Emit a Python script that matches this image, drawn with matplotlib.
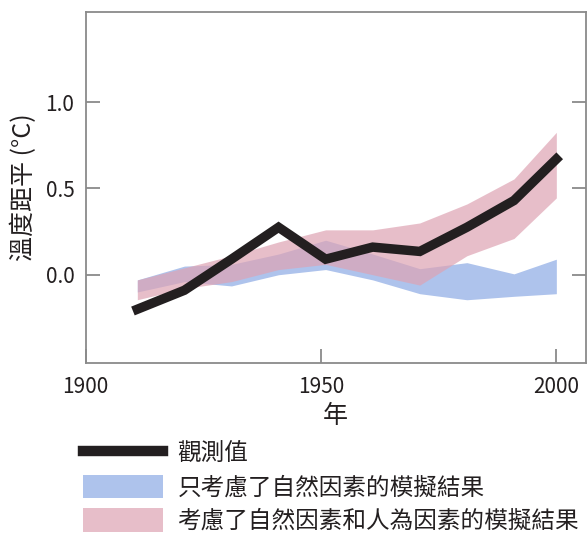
import matplotlib
matplotlib.use('Agg')
import matplotlib.pyplot as plt
from matplotlib.lines import Line2D
from matplotlib.patches import Patch

plt.rcParams['font.family'] = ['Noto Sans CJK TC', 'DejaVu Sans']

years = [1911, 1921, 1931, 1941, 1951, 1961, 1971, 1981, 1991, 2000]
observed = [-0.20, -0.09, 0.09, 0.275, 0.09, 0.16, 0.135, 0.275, 0.43, 0.67]
natural_low = [-0.10, -0.04, -0.065, 0.0, 0.03, -0.03, -0.11, -0.145, -0.125, -0.11]
natural_high = [-0.03, 0.05, 0.06, 0.12, 0.20, 0.12, 0.035, 0.07, 0.005, 0.09]
both_low = [-0.145, -0.08, -0.04, 0.03, 0.06, 0.0, -0.06, 0.11, 0.21, 0.445]
both_high = [-0.03, 0.04, 0.11, 0.19, 0.26, 0.26, 0.30, 0.41, 0.555, 0.825]

labels = ['觀測值', '只考慮了自然因素的模擬結果', '考慮了自然因素和人為因素的模擬結果']

blue = '#aec3ec'
pink = '#dea3b3'
black = '#231f20'
gray = '#8a8a8a'

fig = plt.figure(figsize=(5.87, 5.39), dpi=100)
ax = fig.add_axes([0.1457, 0.327, 0.8526, 0.650])

ax.fill_between(years, natural_low, natural_high, color=blue, lw=0)
ax.fill_between(years, both_low, both_high, color=pink, alpha=0.7, lw=0)
ax.plot(years, observed, color=black, lw=6.8, solid_joinstyle='miter')

ax.set_xlim(1900, 2006.3)
ax.set_ylim(-0.51, 1.52)
ax.set_xticks([1900, 1950, 2000])
ax.set_yticks([0.0, 0.5, 1.0])
ax.set_yticklabels(['0.0', '0.5', '1.0'])

for s in ax.spines.values():
    s.set_color(gray)
    s.set_linewidth(1.3)

ax.tick_params(axis='both', direction='in', length=10, width=1.3, color=gray,
               labelsize=15, labelcolor='#231f20')
ax.tick_params(axis='y', right=True, pad=8)
ax.tick_params(axis='x', pad=9.5)

ax.set_xlabel('年', fontsize=18, color='#231f20', labelpad=3.5)
ax.set_ylabel('溫度距平 (°C)', fontsize=18, color='#231f20', labelpad=6)

handles = [
    Line2D([0], [0], color=black, lw=7.5),
    Patch(facecolor=blue, lw=0),
    Patch(facecolor=pink, alpha=0.7, lw=0),
]
fig.legend(handles, labels, loc='upper left',
           bbox_to_anchor=(83 / 587, 1 - 441 / 539), frameon=False,
           fontsize=17, handlelength=3.4, handleheight=1.14,
           handletextpad=0.6, labelspacing=0.38, borderpad=0,
           borderaxespad=0, labelcolor='#231f20')

fig.savefig('out.png', dpi=100)
